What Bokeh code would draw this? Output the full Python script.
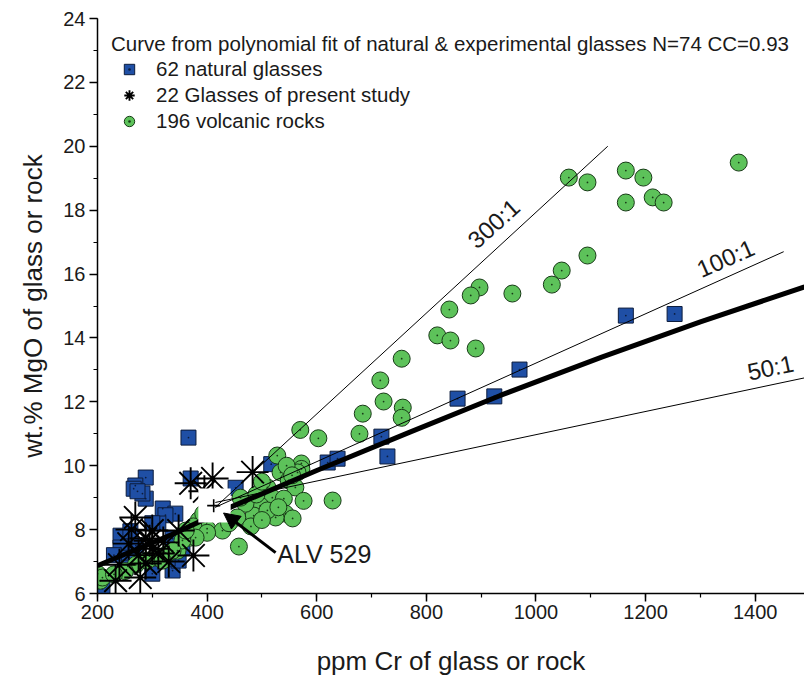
from bokeh.plotting import figure
from bokeh.models import (Range1d, SingleIntervalTicker, Legend, LegendItem,
                          Arrow, NormalHead)
from bokeh.core.properties import value
from bokeh.embed import file_html
from bokeh.resources import INLINE

# ---------------- data ----------------
nat_cr = [1164, 1253, 970, 857, 924, 718, 729, 620, 638, 517, 452, 366, 288, 269, 370,
          266, 288, 282, 319, 342, 324, 311, 242, 242, 257, 251, 337, 348, 355, 209,
          328, 300, 337, 273, 260, 300, 230, 270]
nat_mgo = [14.70, 14.75, 13.01, 12.10, 12.17, 10.91, 10.29, 10.10, 10.22, 10.05, 9.31, 10.88,
           9.63, 9.38, 9.60, 9.28, 8.97, 9.13, 8.66, 8.50, 8.45, 8.19, 7.81, 7.44, 7.12,
           6.81, 6.72, 7.03, 7.44, 6.15, 7.09, 6.62, 7.72, 9.20, 7.95, 8.20, 7.20, 7.50]

study_cr = [410, 483, 370, 288, 269, 278, 233, 375, 311, 300, 257, 348, 288, 320, 275,
            300, 240, 330, 262, 395, 295]
study_mgo = [9.60, 9.80, 9.45, 7.72, 8.38, 6.50, 6.40, 7.19, 7.25, 7.97, 7.56, 7.97, 6.94,
             7.60, 7.20, 7.40, 6.90, 7.00, 8.00, 9.20, 7.65]

alv_cr = [412]
alv_mgo = [8.75]

rock_cr = [1370, 1060, 1094, 1164, 1196, 1164, 1213, 1233, 1094, 1047, 1029, 957, 897, 881,
           842, 820, 844, 890, 755, 757, 755, 716, 722, 684, 678, 603, 570, 629, 528, 572,
           572, 534, 549, 561, 510, 519, 497, 540, 543, 556, 525, 485, 470, 461, 455, 510,
           576, 565, 400, 428, 458, 385, 375, 393, 400, 370, 346, 328, 310, 291, 200, 205,
           209, 379, 355, 337, 319, 361, 440, 480, 500, 530, 490, 545, 555, 500, 270, 250,
           230]
rock_mgo = [19.49, 19.02, 18.87, 19.24, 19.02, 18.24, 18.40, 18.24, 16.58, 16.11, 15.67,
            15.39, 15.58, 15.33, 14.89, 14.08, 13.92, 13.67, 13.35, 11.82, 11.50, 12.67,
            12.01, 11.63, 11.00, 10.86, 11.12, 8.91, 10.32, 10.07, 9.90, 9.79, 9.54, 9.32,
            9.32, 9.00, 8.75, 8.97, 8.50, 8.35, 8.38, 8.44, 8.81, 9.00, 8.38, 8.60, 8.90,
            9.79, 8.03, 7.97, 7.47, 8.30, 8.10, 8.50, 7.90, 7.75, 7.34, 7.25, 7.13, 7.03,
            6.62, 6.40, 6.50, 7.75, 7.66, 7.34, 7.03, 7.97, 8.20, 8.10, 8.30, 8.70, 9.10,
            10.00, 9.70, 9.50, 6.90, 6.70, 6.60]

# polynomial fit curve
fit_cr = [200, 340, 445, 600, 770, 935, 1120, 1300, 1490]
fit_mgo = [6.87, 7.88, 8.72, 9.85, 11.05, 12.20, 13.40, 14.50, 15.60]

# ratio lines (start at ALV 529)
ratio_names = ["300:1", "100:1", "50:1"]
ratio_x0 = [415, 415, 415]
ratio_y0 = [8.70, 8.70, 8.85]
ratio_x1 = [1131, 1452, 1490]
ratio_y1 = [20.00, 16.70, 12.75]
ratio_label_x = [923, 1346, 1428]
ratio_label_y = [17.58, 16.49, 13.07]

FONT = "Liberation Sans"
TXT = "#1a1a1a"

p = figure(width=804, height=682, x_range=Range1d(200, 1490), y_range=Range1d(6, 24),
           output_backend="svg", toolbar_location=None,
           min_border_left=97, min_border_right=0, min_border_top=18, min_border_bottom=89)
p.outline_line_color = None
p.xgrid.visible = False
p.ygrid.visible = False
p.background_fill_color = "white"
p.border_fill_color = "white"

p.xaxis.ticker = SingleIntervalTicker(interval=200, num_minor_ticks=2)
p.yaxis.ticker = SingleIntervalTicker(interval=2, num_minor_ticks=2)
p.xaxis.axis_label = "ppm Cr of glass or rock"
p.yaxis.axis_label = "wt.% MgO of glass or rock"
for ax in (p.xaxis, p.yaxis):
    ax.axis_line_color = "black"
    ax.axis_line_width = 1.5
    ax.major_tick_line_color = "black"
    ax.minor_tick_line_color = "black"
    ax.major_tick_line_width = 1.5
    ax.minor_tick_line_width = 1.2
    ax.major_tick_in = 0
    ax.major_tick_out = 8
    ax.minor_tick_in = 0
    ax.minor_tick_out = 4
    ax.major_label_text_font = FONT
    ax.major_label_text_font_size = "20px"
    ax.major_label_text_color = TXT
    ax.axis_label_text_font = FONT
    ax.axis_label_text_font_size = "26px"
    ax.axis_label_text_font_style = "normal"
    ax.axis_label_text_color = TXT
p.xaxis.major_label_standoff = 3
p.yaxis.major_label_standoff = 4
p.xaxis.axis_label_standoff = 24
p.yaxis.axis_label_standoff = 12

# points
r_nat = p.scatter(nat_cr, nat_mgo, marker="square", size=15, fill_color="#1f4fa5",
                  line_color="#0c1c3c", line_width=1)
r_nat_dot = p.scatter(nat_cr, nat_mgo, marker="dot", size=7, line_color="#0c1c3c",
                      fill_color="#0c1c3c")
r_rock = p.scatter(rock_cr, rock_mgo, marker="circle", size=17, fill_color="#5dc25a",
                   line_color="#183a17", line_width=1)
r_rock_dot = p.scatter(rock_cr, rock_mgo, marker="dot", size=7, line_color="#183a17",
                       fill_color="#183a17")
r_study = p.scatter(study_cr, study_mgo, marker="asterisk", size=32, line_color="black",
                    line_width=1.9)

# fit curve
p.line(fit_cr, fit_mgo, line_color="black", line_width=5)

# white box behind ALV 529
p.quad(left=[384], right=[443], bottom=[8.22], top=[9.29], fill_color="white",
       line_color=None)

# ratio lines
p.segment(x0=ratio_x0, y0=ratio_y0, x1=ratio_x1, y1=ratio_y1, line_color="black",
          line_width=1)

p.scatter(alv_cr, alv_mgo, marker="cross", size=13, line_color="black", line_width=1.6)

p.add_layout(Arrow(end=NormalHead(size=16, fill_color="black", line_color="black"),
                   x_start=525, y_start=7.28, x_end=430, y_end=8.52,
                   line_color="black", line_width=3))
p.text([528], [7.25], text=["ALV 529"], text_font=value(FONT), text_font_size="25px",
       text_color=TXT, text_align="left", text_baseline="middle")

p.text(ratio_label_x, ratio_label_y, text=ratio_names, angle=[0.733, 0.415, 0.21],
       text_font=value(FONT), text_font_size="24px", text_color=TXT,
       text_align="center", text_baseline="middle")

legend = Legend(items=[LegendItem(label="62 natural glasses", renderers=[r_nat, r_nat_dot]),
                       LegendItem(label="22 Glasses of present study", renderers=[r_study]),
                       LegendItem(label="196 volcanic rocks", renderers=[r_rock, r_rock_dot])],
                title="Curve from polynomial fit of natural & experimental glasses N=74 CC=0.93",
                location="top_left")
legend.margin = 14
legend.padding = 1
legend.title_text_font = FONT
legend.title_text_font_size = "20.5px"
legend.title_text_font_style = "normal"
legend.title_text_color = TXT
legend.title_standoff = 0
legend.label_text_font = FONT
legend.label_text_font_size = "20.5px"
legend.label_text_color = TXT
legend.glyph_width = 36
legend.glyph_height = 26
legend.label_height = 18
legend.label_standoff = 9
legend.spacing = -6
legend.background_fill_alpha = 0
legend.border_line_color = None
p.add_layout(legend)

open("out.html", "w").write(file_html(p, INLINE))
